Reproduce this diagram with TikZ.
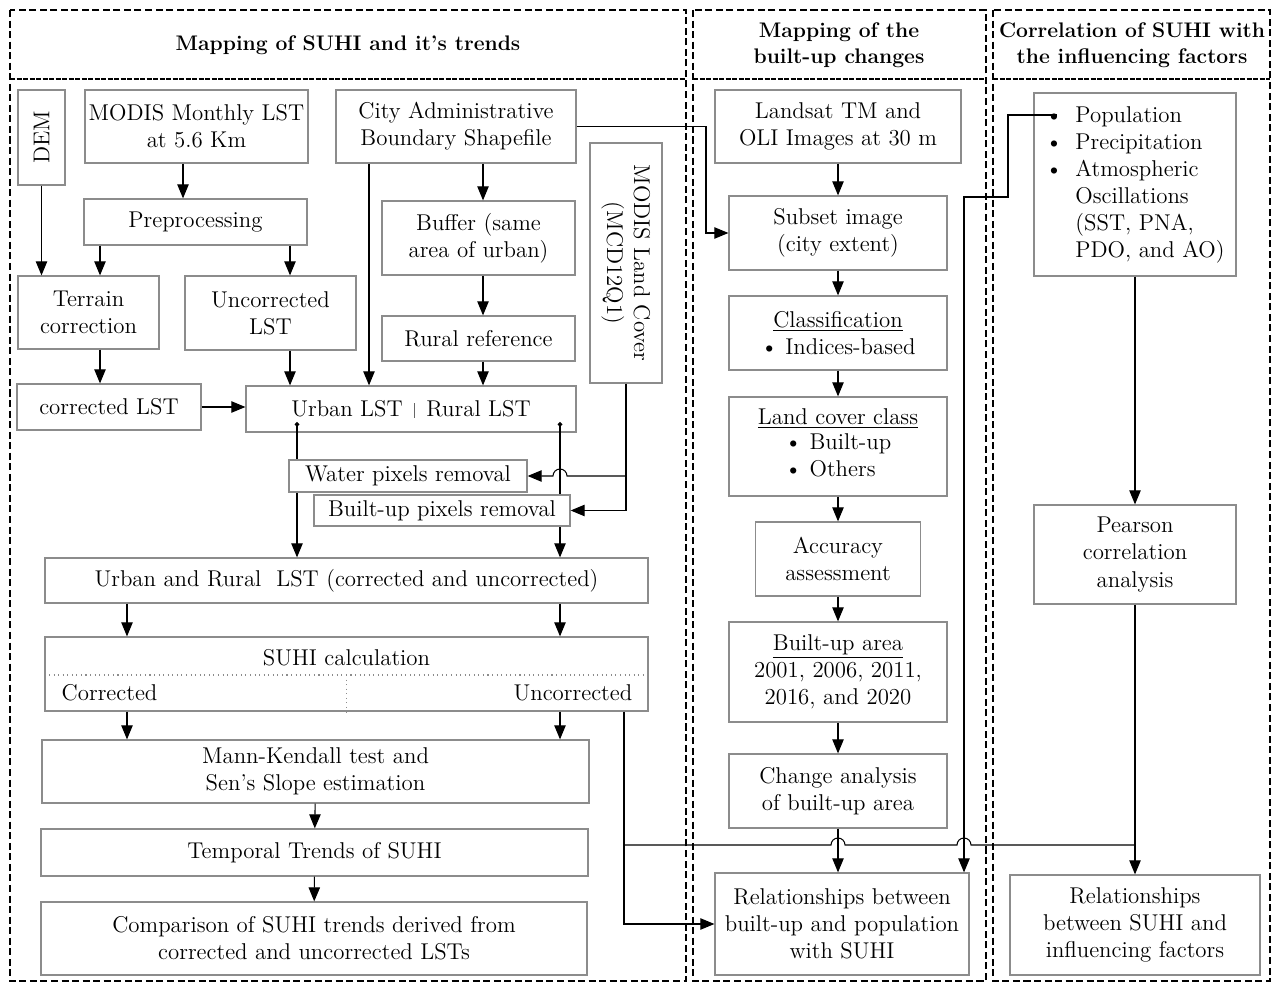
\documentclass[tikz,border=0pt]{standalone}
\usepackage{tikz}
\usetikzlibrary{calc,arrows.meta}

\newcommand{\boxfont}{\fontsize{13}{15.4}\selectfont}
\newcommand{\headfont}{\fontsize{12}{14.7}\selectfont\bfseries}

\tikzset{
  box/.style={draw=black!45, line width=0.7pt, fill=white, align=center, inner sep=0pt, font=\boxfont},
  sz/.style 2 args={minimum width=#1*0.02cm, minimum height=#2*0.02cm},
  txt/.style={inner sep=0pt, font=\boxfont},
  head/.style={inner sep=0pt, align=center, font=\headfont},
  wire/.style={line width=0.6pt},
  arr/.style={line width=0.6pt, -{Triangle[length=8pt,width=6.5pt]}},
  dotarr/.style={line width=0.6pt, {Circle[length=2.6pt]}-{Triangle[length=8pt,width=6.5pt]}},
  panel/.style={line width=1.1pt, dash pattern=on 4pt off 2pt},
  headline/.style={line width=1.1pt, dash pattern=on 3pt off 0.7pt}
}

\begin{document}
\begin{tikzpicture}[x={(0.02cm,0)}, y={(0,-0.02cm)}]
  \useasboundingbox (0,0) rectangle (1277,982);

  % panels
  \draw[panel] (10,10) rectangle (686,981);
  \draw[panel] (693,10) rectangle (986,981);
  \draw[panel] (993,10) rectangle (1270,981);
  \draw[headline] (10,79) -- (686,79);
  \draw[headline] (693,79) -- (986,79);
  \draw[headline] (993,79) -- (1270,79);
  \node[head] (h1) at (348,45) {Mapping of SUHI and it's trends};
  \node[head] (h2) at (839,45) {Mapping of the\\built-up changes};
  \node[head] (h3) at (1132,45) {Correlation of SUHI with\\the influencing factors};

  % guides for the vertical connectors
  \coordinate (xm) at (183,0);
  \coordinate (xt) at (100,0);
  \coordinate (xp) at (290,0);
  \coordinate (xc) at (369,0);
  \coordinate (xr) at (483,0);
  \coordinate (xl) at (127,0);
  \coordinate (xu) at (624,0);
  \coordinate (xs) at (706,0);
  \coordinate (ur1) at (297,422);
  \coordinate (ur2) at (560,422);
  \coordinate (ju) at (624,845);
  \coordinate (pop) at (1057,115);
  \coordinate (pk) at (1008,197);
  \coordinate (pl) at (964,197);

  % left panel
  \node[box, sz={47}{95}] (dem) at (41.5,137.5) {\rotatebox{90}{DEM}};
  \node[box, sz={223}{73}] (modis) at (196.5,126.5) {MODIS Monthly LST\\at 5.6 Km};
  \node[box, sz={240}{73}] (city) at (456,126.5) {City Administrative\\Boundary Shapefile};
  \node[box, sz={72}{240}] (lc) at (626,263) {\rotatebox{-90}{\begin{tabular}{@{}c@{}}MODIS Land Cover\\(MCD12Q1)\end{tabular}}};
  \node[box, sz={223}{46}] (prep) at (195.5,222) {Preprocessing};
  \node[box, sz={193}{74}] (buffer) at (478.5,238) {Buffer (same\\area of urban)};
  \node[box, sz={141}{73}] (terrain) at (88.5,312.5) {Terrain\\correction};
  \node[box, sz={171}{74}] (uncor) at (270.5,313) {Uncorrected\\LST};
  \node[box, sz={193}{45}] (rural) at (478.5,338.5) {Rural reference};
  \node[box, sz={184}{46}] (corr) at (109,407) {corrected LST};
  \node[box, sz={330}{46}] (urlst) at (411,409) {Urban LST\enspace{\color{black!60}\rule[-0.1ex]{0.4pt}{1.5ex}}\enspace Rural LST};
  \node[box, sz={603}{45}] (ulst2) at (346.5,580.5) {Urban and Rural~ LST (corrected and uncorrected)};
  \node[box, sz={603}{74}] (suhi) at (346.5,674) {};
  \node[txt] (suhit) at ($(suhi.north)+(0,21)$) {SUHI calculation};
  \node[txt, anchor=west] (corrt) at ($(suhi.south west)+(17,-19)$) {Corrected};
  \node[txt, anchor=east] (uncort) at ($(suhi.south east)+(-16,-19)$) {Uncorrected};
  \node[box, sz={547}{63}] (mk) at (315.5,771.5) {Mann-Kendall test and\\Sen's Slope estimation};
  \node[box, sz={547}{47}] (temporal) at (314.5,852.5) {Temporal Trends of SUHI};
  \node[box, sz={546}{73}] (compare) at (314,938.5) {Comparison of SUHI trends derived from\\corrected and uncorrected LSTs};
  \draw[black!45, dotted, line width=0.6pt] ($(suhi.west)+(0,1)$) -- ($(suhi.east)+(0,1)$);
  \draw[black!45, dotted, line width=0.6pt] ($(suhi.center)+(0,1)$) -- (suhi.south);

  % middle panel
  \node[box, sz={246}{73}] (landsat) at (838,126.5) {Landsat TM and\\OLI Images at 30 m};
  \node[box, sz={218}{74}] (subset) at (838,233) {Subset image\\(city extent)};
  \node[box, sz={218}{74}] (classif) at (838,333) {\underline{Classification}\\\textbullet\ Indices-based};
  \node[box, sz={218}{99}] (lcclass) at (838,446.5) {\underline{Land cover class}\\\begin{tabular}{@{}l@{}}\textbullet\ Built-up\\\textbullet\ Others\end{tabular}};
  \node[box, sz={165}{74}] (accuracy) at (838,559) {Accuracy\\assessment};
  \node[box, sz={218}{100}] (builtarea) at (838,672) {\underline{Built-up area}\\2001, 2006, 2011,\\2016, and 2020};
  \node[box, sz={218}{74}] (change) at (838,791) {Change analysis\\of built-up area};
  \node[box, sz={254}{102}] (relbu) at (842,924) {Relationships between\\built-up and population\\with SUHI};

  % right panel
  \node[box, sz={202}{183}] (factors) at (1135,184.5) {\begin{tabular}{@{}l@{\hspace{0.55em}}l@{}}\textbullet & Population\\\textbullet & Precipitation\\\textbullet & Atmospheric\\ & Oscillations\\ & (SST, PNA,\\ & PDO, and AO)\end{tabular}};
  \node[box, sz={202}{99}] (pearson) at (1135,554.5) {Pearson\\correlation\\analysis};
  \node[box, sz={250}{100}] (relsuhi) at (1135,925) {Relationships\\between SUHI and\\influencing factors};

  % urban / rural lines, covered by the removal boxes
  \draw[dotarr] (ur1) -- (ur1 |- ulst2.north);
  \draw[dotarr] (ur2) -- (ur2 |- ulst2.north);
  \node[box, sz={238}{32}] (water) at (408,476) {Water pixels removal};
  \node[box, sz={256}{31}] (builtrm) at (442,510.5) {Built-up pixels removal};

  % left connectors
  \draw[arr] (dem) -- (dem |- terrain.north);
  \draw[arr] (modis.south -| xm) -- (prep.north -| xm);
  \draw[arr] (prep.south -| xt) -- (terrain.north -| xt);
  \draw[arr] (prep.south -| xp) -- (uncor.north -| xp);
  \draw[arr] (terrain.south -| xt) -- (corr.north -| xt);
  \draw[arr] (uncor.south -| xp) -- (urlst.north -| xp);
  \draw[arr] (city.south -| xc) -- (urlst.north -| xc);
  \draw[arr] (city.south -| xr) -- (buffer.north -| xr);
  \draw[arr] (buffer.south -| xr) -- (rural.north -| xr);
  \draw[arr] (rural.south -| xr) -- (urlst.north -| xr);
  \draw[arr] (corr.east) -- (corr.east -| urlst.west);
  \draw[arr] (lc.south) |- (builtrm.east);
  \draw[arr] (lc.south |- water.east) -- ($(water.east -| ur2)+(7,0)$) arc[start angle=0, end angle=-180, radius=7] -- (water.east);
  \draw[arr] (ulst2.south -| xl) -- (suhi.north -| xl);
  \draw[arr] (ulst2.south -| ur2) -- (suhi.north -| ur2);
  \draw[arr] (suhi.south -| xl) -- (mk.north -| xl);
  \draw[arr] (suhi.south -| ur2) -- (mk.north -| ur2);
  \draw[arr] (mk) -- (temporal);
  \draw[arr] (temporal) -- (compare);
  \draw[arr] (suhi.south -| xu) |- (relbu.west);
  \draw[wire] (ju) -- ($(change.south |- ju)+(-7,0)$) arc[start angle=180, end angle=360, radius=7] -- ($(pl |- ju)+(-7,0)$) arc[start angle=180, end angle=360, radius=7] -- (relsuhi.north |- ju);

  % middle connectors
  \draw[arr] (city.east) -- (city.east -| xs) |- (subset.west);
  \draw[arr] (landsat) -- (subset);
  \draw[arr] (subset) -- (classif);
  \draw[arr] (classif) -- (lcclass);
  \draw[arr] (lcclass) -- (accuracy);
  \draw[arr] (accuracy) -- (builtarea);
  \draw[arr] (builtarea) -- (change);
  \draw[arr] (change.south) -- (change.south |- relbu.north);
  \draw[arr] (pop) -| (pk) -- (pl) -- (pl |- relbu.north);

  % right connectors
  \draw[arr] (factors) -- (pearson);
  \draw[arr] (pearson) -- (relsuhi);
\end{tikzpicture}
\end{document}
